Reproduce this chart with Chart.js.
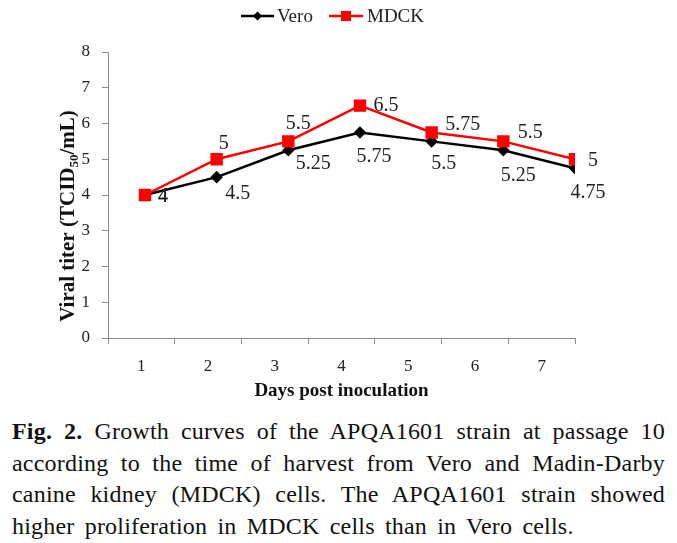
<!DOCTYPE html>
<html>
<head>
<meta charset="utf-8">
<script src="https://cdn.jsdelivr.net/npm/chart.js@4/dist/chart.umd.min.js"></script>
<style>
  body { margin: 0; background: #fff; }
  #wrap { position: relative; width: 677px; height: 410px; }
  #caption {
    position: absolute; left: 12px; top: 416px; width: 653px;
    font-family: "Liberation Serif", "Times New Roman", serif;
    font-size: 24px; line-height: 31.5px; text-align: justify; color: #111;
    word-spacing: 4px; letter-spacing: 0.2px;
  }
</style>
</head>
<body>
<div id="wrap"><canvas id="growthChart"></canvas></div>
<div id="caption"><b>Fig. 2.</b> Growth curves of the APQA1601 strain at passage 10 according to the time of harvest from Vero and Madin-Darby canine kidney (MDCK) cells. The APQA1601 strain showed higher proliferation in MDCK cells than in Vero cells.</div>
<script>
const days = [1, 2, 3, 4, 5, 6, 7];
const dayLabels = ['1', '2', '3', '4', '5', '6', '7'];
const veroTiter = [4, 4.5, 5.25, 5.75, 5.5, 5.25, 4.75];
const mdckTiter = [4, 5, 5.5, 6.5, 5.75, 5.5, 5];
const yTicks = [0, 1, 2, 3, 4, 5, 6, 7, 8];

const serif = '"Liberation Serif", "Times New Roman", serif';

// label nudges, px from the point (like the excel labels)
const veroLabelOffset = [[18, 2], [21, 17], [25, 13], [14, 24], [12, 22], [15, 25], [13, 25]];
const mdckLabelOffset = [[18, 2], [7, -16], [10, -18], [26, 0], [31, -8], [27, -9], [18, 1]];

const valueLabels = {
  id: 'valueLabels',
  afterDatasetsDraw(chart) {
    const ctx = chart.ctx;
    ctx.save();
    ctx.font = '20px ' + serif;
    ctx.fillStyle = '#222';
    ctx.textAlign = 'center';
    ctx.textBaseline = 'middle';
    chart.data.datasets.forEach((ds, i) => {
      const meta = chart.getDatasetMeta(i);
      meta.data.forEach((pt, j) => {
        const off = ds.labelOffset[j];
        ctx.fillText(String(ds.data[j].y), pt.x + off[0], pt.y + off[1]);
      });
    });
    ctx.restore();
  }
};

const legendAndYTitle = {
  id: 'legendAndYTitle',
  afterDraw(chart) {
    const ctx = chart.ctx;
    ctx.save();
    // legend
    const ly = 16;
    ctx.lineWidth = 2.5;
    ctx.strokeStyle = '#000';
    ctx.beginPath(); ctx.moveTo(241, ly); ctx.lineTo(274, ly); ctx.stroke();
    ctx.fillStyle = '#000';
    ctx.beginPath();
    ctx.moveTo(257.5, ly - 4.5); ctx.lineTo(262, ly); ctx.lineTo(257.5, ly + 4.5); ctx.lineTo(253, ly);
    ctx.closePath(); ctx.fill();
    ctx.strokeStyle = '#ff0000';
    ctx.beginPath(); ctx.moveTo(329, ly); ctx.lineTo(363, ly); ctx.stroke();
    ctx.fillStyle = '#ff0000';
    ctx.fillRect(341, ly - 5, 10, 10);
    ctx.fillStyle = '#222';
    ctx.font = '19px ' + serif;
    ctx.textBaseline = 'middle';
    ctx.textAlign = 'left';
    ctx.fillText('Vero', 277, ly + 1);
    ctx.fillText('MDCK', 367, ly + 1);

    // y axis title with subscript
    const big = 'bold 21px ' + serif;
    const small = 'bold 13px ' + serif;
    const parts = [['Viral titer (TCID', big, 0], ['50', small, 6], ['/mL)', big, 0]];
    let total = 0;
    parts.forEach(p => { ctx.font = p[1]; total += ctx.measureText(p[0]).width; });
    ctx.translate(69, 216);
    ctx.rotate(-Math.PI / 2);
    ctx.fillStyle = '#111';
    let x = -total / 2;
    parts.forEach(p => {
      ctx.font = p[1];
      ctx.fillText(p[0], x, p[2]);
      x += ctx.measureText(p[0]).width;
    });
    ctx.restore();
  }
};

new Chart(document.getElementById('growthChart'), {
  type: 'line',
  data: {
    datasets: [{
      label: 'Vero',
      data: days.map((d, i) => ({ x: d, y: veroTiter[i] })),
      labelOffset: veroLabelOffset,
      xAxisID: 'xData',
      borderColor: '#000',
      backgroundColor: '#000',
      borderWidth: 2.5,
      pointStyle: 'rectRot',
      pointRadius: 4.5,
      pointHoverRadius: 4.5,
      tension: 0,
      order: 1
    }, {
      label: 'MDCK',
      data: days.map((d, i) => ({ x: d, y: mdckTiter[i] })),
      labelOffset: mdckLabelOffset,
      xAxisID: 'xData',
      borderColor: '#ff0000',
      backgroundColor: '#ff0000',
      borderWidth: 2.5,
      pointStyle: 'rect',
      pointRadius: 7,
      pointHoverRadius: 7,
      tension: 0,
      order: 0
    }]
  },
  options: {
    responsive: true,
    maintainAspectRatio: false,
    animation: false,
    layout: { padding: { left: 0, right: 102, top: 52, bottom: 0 } },
    plugins: { legend: { display: false }, tooltip: { enabled: false } },
    scales: {
      x: {
        type: 'category',
        labels: dayLabels,
        offset: true,
        grid: { offset: true, drawOnChartArea: false, tickLength: 6, color: '#8c8c8c' },
        border: { color: '#8c8c8c', width: 1 },
        ticks: { font: { family: serif, size: 17 }, color: '#222', padding: 12, maxRotation: 0 },
        title: {
          display: true, text: 'Days post inoculation', color: '#111',
          font: { family: serif, size: 19, weight: 'bold' }, padding: { top: 0, bottom: 8 }
        },
        afterFit(scale) { scale.height = 72; }
      },
      xData: {
        type: 'linear',
        display: false,
        min: 0.484,
        max: 7
      },
      y: {
        min: 0,
        max: 8,
        afterBuildTicks(scale) { scale.ticks = yTicks.map(v => ({ value: v })); },
        grid: { drawOnChartArea: false, tickLength: 6, color: '#8c8c8c' },
        border: { color: '#8c8c8c', width: 1 },
        ticks: { font: { family: serif, size: 17 }, color: '#222', padding: 12 },
        afterFit(scale) { scale.width = 108; }
      }
    }
  },
  plugins: [valueLabels, legendAndYTitle]
});
</script>
</body>
</html>
